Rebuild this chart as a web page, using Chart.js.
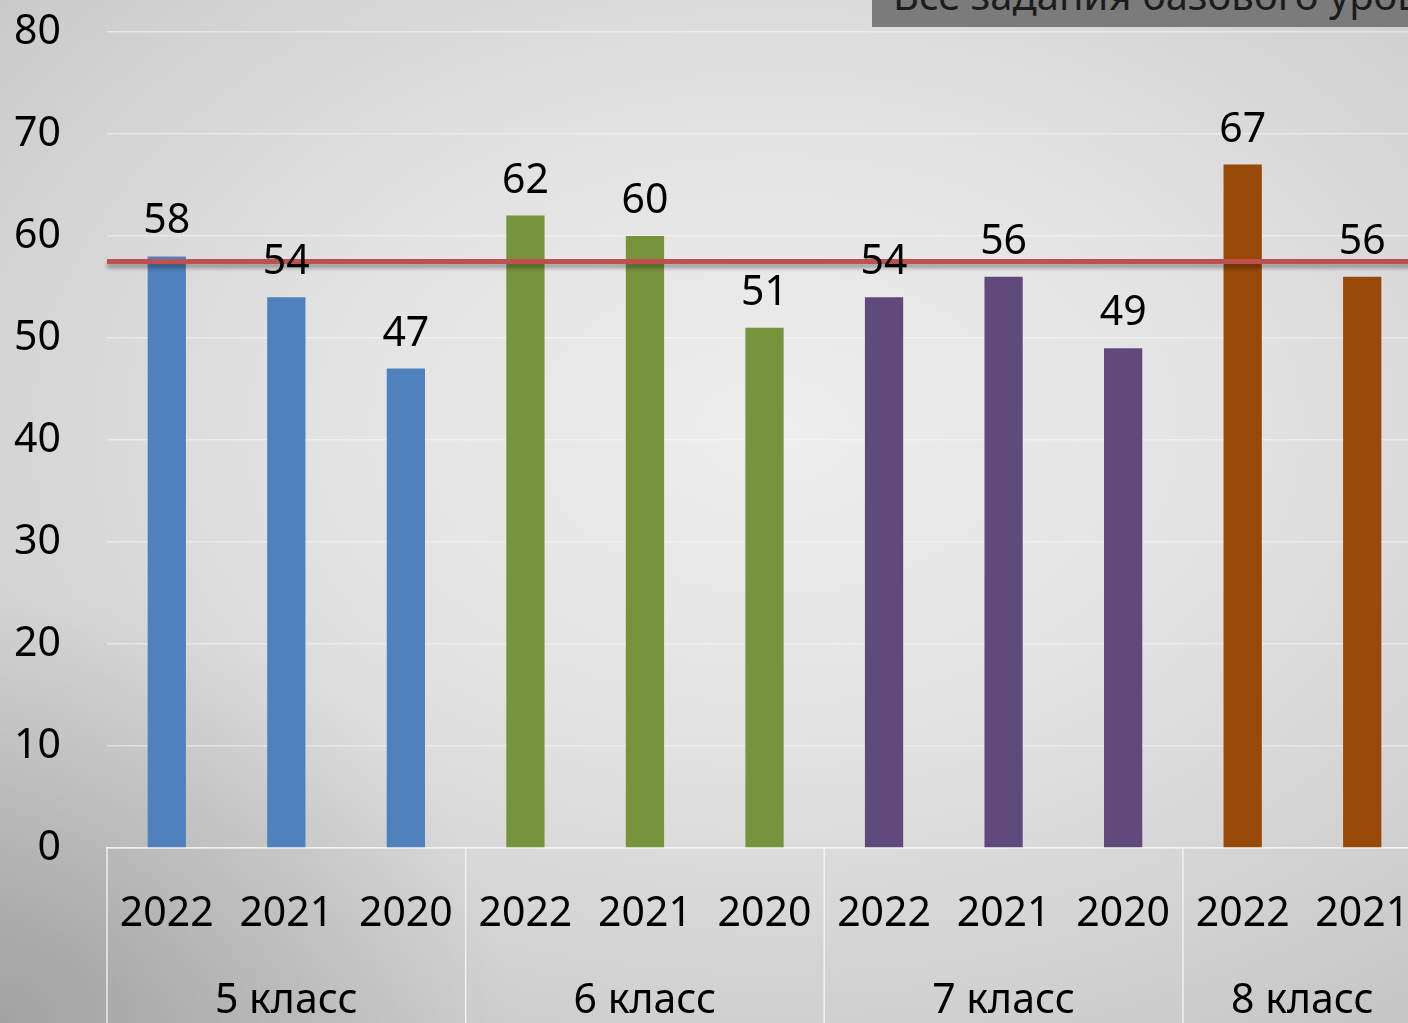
<!DOCTYPE html>
<html lang="ru">
<head>
<meta charset="utf-8">
<title>Все задания базового уровня</title>
<script src="https://cdn.jsdelivr.net/npm/chart.js@4.4.1/dist/chart.umd.min.js"></script>
<style>
    html, body { margin: 0; padding: 0; width: 1408px; height: 1023px; overflow: hidden; }
    body {
        background:
            radial-gradient(ellipse 60% 70% at 0% 100%, rgba(120,120,120,0.45), rgba(120,120,120,0) 60%),
            radial-gradient(ellipse 75% 70% at 55% 42%, #eeeeee 0%, #e2e2e2 45%, #cfcfcf 85%, #c6c6c6 100%);
        font-family: "Noto Sans", "Open Sans", sans-serif;
    }
    #chartBox { position: absolute; left: 0; top: 0; }
    #titleBox {
        position: absolute; left: 872px; top: 0; width: 560px; height: 27px;
        background: #7b7b7b; overflow: hidden;
    }
    #titleBox span {
        position: absolute; left: 21px; top: -25px; font-size: 40px; line-height: 40px;
        color: #1c1c1c; white-space: nowrap;
    }
</style>
</head>
<body>
<div id="chartBox"><canvas id="scoreChart" width="1430" height="1023"></canvas></div>
<div id="titleBox"><span>Все задания базового уровня</span></div>
<script>
// Chart data
const years = ['2022', '2021', '2020', '2022', '2021', '2020', '2022', '2021', '2020', '2022', '2021'];
const groups = ['5 класс', '6 класс', '7 класс', '8 класс'];
const groupSizes = [3, 3, 3, 2];
const scores = [58, 54, 47, 62, 60, 51, 54, 56, 49, 67, 56];
const groupColors = ['#4f81bd', '#77933c', '#604a7b', '#984807'];
const referenceLevel = 57.5;
const yMax = 80;
const yStep = 10;

// one colour per bar, taken from its group
const barColors = [];
groupSizes.forEach((n, g) => { for (let i = 0; i < n; i++) barColors.push(groupColors[g]); });

const fontFamily = '"Noto Sans", "Open Sans", sans-serif';
const labelFont = '41px ' + fontFamily;

// red reference line, value labels and the grouped category row
const extrasPlugin = {
    id: 'extras',
    afterDatasetsDraw(chart) {
        const ctx = chart.ctx;
        const y = chart.scales.y;
        const area = chart.chartArea;

        // reference line with soft shadow
        const ly = y.getPixelForValue(referenceLevel);
        ctx.save();
        ctx.strokeStyle = '#c0504d';
        ctx.lineWidth = 5;
        ctx.shadowColor = 'rgba(0,0,0,0.35)';
        ctx.shadowOffsetY = 4;
        ctx.shadowBlur = 4;
        ctx.beginPath();
        ctx.moveTo(area.left, ly);
        ctx.lineTo(area.right, ly);
        ctx.stroke();
        ctx.restore();

        // value labels above bars
        ctx.save();
        ctx.font = labelFont;
        ctx.fillStyle = '#000';
        ctx.textAlign = 'center';
        ctx.textBaseline = 'alphabetic';
        chart.getDatasetMeta(0).data.forEach((bar, i) => {
            ctx.fillText(String(scores[i]), bar.x, bar.y - 23);
        });
        ctx.restore();
    },
    afterDraw(chart) {
        const ctx = chart.ctx;
        const x = chart.scales.x;
        const area = chart.chartArea;
        const half = (x.getPixelForValue(1) - x.getPixelForValue(0)) / 2;

        ctx.save();
        ctx.strokeStyle = 'rgba(245,245,245,0.9)';
        ctx.lineWidth = 1.5;
        ctx.font = labelFont;
        ctx.fillStyle = '#000';
        ctx.textAlign = 'center';
        ctx.textBaseline = 'middle';
        let start = 0;
        groupSizes.forEach((n, g) => {
            const left = x.getPixelForValue(start) - half;
            const right = x.getPixelForValue(start + n - 1) + half;
            ctx.beginPath();
            ctx.moveTo(left, area.bottom);
            ctx.lineTo(left, chart.height);
            ctx.stroke();
            ctx.fillText(groups[g], (left + right) / 2, 1001);
            start += n;
        });
        ctx.restore();
    }
};

new Chart(document.getElementById('scoreChart').getContext('2d'), {
    type: 'bar',
    data: {
        labels: years,
        datasets: [{
            data: scores,
            backgroundColor: barColors,
            categoryPercentage: 1,
            barPercentage: 0.32
        }]
    },
    options: {
        responsive: false,
        animation: false,
        layout: { padding: { top: 32, right: 8, left: 0, bottom: 0 } },
        plugins: { legend: { display: false }, tooltip: { enabled: false } },
        scales: {
            x: {
                grid: { display: false, drawTicks: false },
                border: { display: true, color: 'rgba(245,245,245,0.9)', width: 1.5 },
                ticks: {
                    color: '#000',
                    font: { family: fontFamily, size: 41 },
                    padding: 42,
                    maxRotation: 0,
                    autoSkip: false
                },
                afterFit(axis) {
                    axis.height = 175;
                    axis.paddingLeft = 0;
                    axis.paddingRight = 0;
                }
            },
            y: {
                min: 0,
                max: yMax,
                grid: { color: 'rgba(250,250,250,0.5)', lineWidth: 1.5, drawTicks: false },
                border: { display: false },
                ticks: {
                    stepSize: yStep,
                    color: '#000',
                    font: { family: fontFamily, size: 41 },
                    padding: 46
                },
                afterFit(axis) {
                    axis.width = 107;
                    axis.paddingTop = 0;
                    axis.paddingBottom = 0;
                }
            }
        }
    },
    plugins: [extrasPlugin]
});
</script>
</body>
</html>
